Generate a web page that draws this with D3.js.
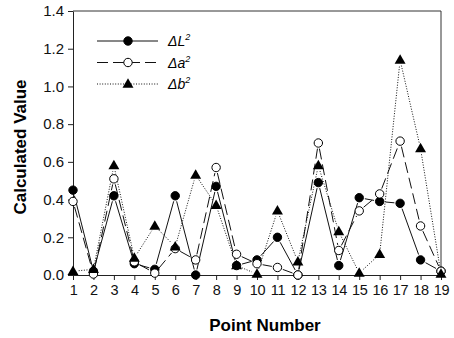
<!DOCTYPE html>
<html><head><meta charset="utf-8">
<script src="https://cdn.jsdelivr.net/npm/d3@7"></script>
<style>body{margin:0;background:#fff}svg{display:block;font-family:"Liberation Sans",Arial,sans-serif}</style>
</head><body><svg id="c" width="454" height="338"></svg>
<script>
const points = [1,2,3,4,5,6,7,8,9,10,11,12,13,14,15,16,17,18,19];
const dL2 = [0.45,0.02,0.42,0.06,0.03,0.42,0.0,0.47,0.05,0.08,0.20,0.0,0.49,0.05,0.41,0.39,0.38,0.08,0.02];
const da2 = [0.39,0.005,0.51,0.07,0.01,0.14,0.08,0.57,0.11,0.06,0.04,0.0,0.70,0.13,0.34,0.43,0.71,0.26,0.02];
const db2 = [0.02,0.03,0.58,0.09,0.26,0.15,0.53,0.37,0.05,0.005,0.34,0.07,0.58,0.23,0.01,0.11,1.14,0.67,0.005];
const yTicks = [0,0.2,0.4,0.6,0.8,1.0,1.2,1.4];
const seriesNames = ["L","a","b"];

const svg = d3.select("#c");
const L = 73, R = 441, T = 11, B = 275;
const x = d3.scaleLinear().domain([1,19]).range([L,R]);
const y = d3.scaleLinear().domain([0,1.4]).range([B,T]);

// frame
svg.append("path").attr("d",`M${L},${T}H${R}V${B}`).attr("fill","none").attr("stroke","#333").attr("stroke-width",1);

const yAx = svg.append("g").attr("transform",`translate(${L},0)`)
  .call(d3.axisLeft(y).tickValues(yTicks).tickFormat(d3.format(".1f")).tickSize(5).tickSizeOuter(0));
const xAx = svg.append("g").attr("transform",`translate(0,${B})`)
  .call(d3.axisBottom(x).tickValues(points).tickFormat(d3.format("d")).tickSize(5).tickSizeOuter(0));
[yAx,xAx].forEach(g=>{
  g.selectAll("path,line").attr("stroke","#222");
  g.selectAll("text").attr("font-size",15).attr("fill","#111").attr("font-family","'Liberation Sans',Arial,sans-serif");
});
yAx.selectAll("text").attr("x",-9);
xAx.selectAll("text").attr("y",10).attr("font-size",14.5).style("letter-spacing","-0.3px");

svg.append("text").attr("x",(L+R)/2+8).attr("y",331).attr("text-anchor","middle")
  .attr("font-size",17).attr("font-weight","bold").text("Point Number");
svg.append("text").attr("transform",`translate(26,${(T+B)/2+4}) rotate(-90)`).attr("text-anchor","middle")
  .attr("font-size",17).attr("font-weight","bold").text("Calculated Value");

const styles = [
  {data:dL2, dash:null, marker:"circle", fill:"#000"},
  {data:da2, dash:"11,5", marker:"circle", fill:"#fff"},
  {data:db2, dash:"1,1.6", marker:"triangle", fill:"#000"}
];
const r = 4.2;
function drawMarker(g, type, cx, cy, fill){
  if(type==="circle"){
    g.append("circle").attr("cx",cx).attr("cy",cy).attr("r",r).attr("fill",fill).attr("stroke","#000").attr("stroke-width",1);
  } else {
    g.append("path").attr("d",d3.symbol().type(d3.symbolTriangle).size(52)()).attr("transform",`translate(${cx},${cy+0.5})`).attr("fill","#000");
  }
}
styles.forEach(s=>{
  const g = svg.append("g");
  const pts = points.map((p,i)=>[x(p),y(s.data[i])]);
  for(let i=0;i<pts.length-1;i++){
    const [x1,y1]=pts[i],[x2,y2]=pts[i+1];
    const dx=x2-x1, dy=y2-y1, len=Math.hypot(dx,dy), gap=r+1.5;
    if(len<=2*gap) continue;
    const ux=dx/len, uy=dy/len;
    g.append("line").attr("x1",x1+ux*gap).attr("y1",y1+uy*gap).attr("x2",x2-ux*gap).attr("y2",y2-uy*gap)
      .attr("stroke","#111").attr("stroke-width",1).attr("stroke-dasharray",s.dash);
  }
});
styles.forEach(s=>{
  const g = svg.append("g");
  points.forEach((p,i)=>drawMarker(g,s.marker,x(p),y(s.data[i]),s.fill));
});

// legend
const legY = [41,62.5,84];
styles.forEach((s,i)=>{
  const g = svg.append("g");
  g.append("line").attr("x1",97).attr("x2",158).attr("y1",legY[i]).attr("y2",legY[i])
    .attr("stroke","#111").attr("stroke-width",1).attr("stroke-dasharray",s.dash);
  drawMarker(g,s.marker,128,legY[i],s.fill);
  const t = g.append("text").attr("x",168).attr("y",legY[i]+5).attr("font-size",14).attr("font-style","italic");
  t.append("tspan").text("Δ"+seriesNames[i]);
  t.append("tspan").attr("dy",-6).attr("font-size",9).text("2");
});
</script></body></html>
